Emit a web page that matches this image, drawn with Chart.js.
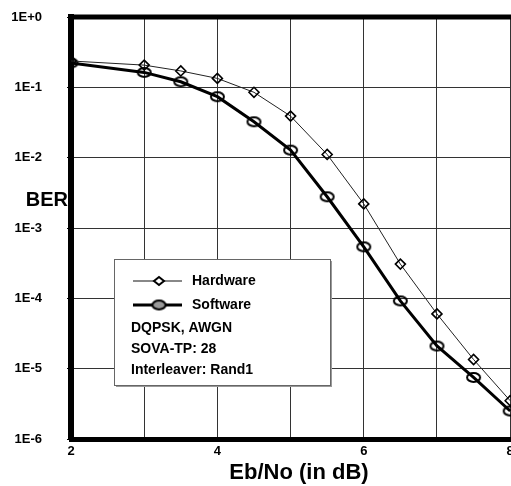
<!DOCTYPE html>
<html>
<head>
<meta charset="utf-8">
<script src="https://cdn.jsdelivr.net/npm/chart.js@4/dist/chart.umd.min.js"></script>
<style>
  body { margin: 0; background: #fff; }
  #wrap { width: 511px; height: 486px; overflow: hidden; position: relative; }
  #inner { width: 540px; height: 486px; }
</style>
</head>
<body>
<div id="wrap"><div id="inner"><canvas id="myChart"></canvas></div></div>
<script>
// data
var ebno = [2, 3, 3.5, 4, 4.5, 5, 5.5, 6, 6.5, 7, 7.5, 8];
var hardware = [0.237, 0.207, 0.171, 0.134, 0.085, 0.039, 0.0111, 0.0022, 3.07e-4, 6.0e-5, 1.35e-5, 3.5e-6];
var software = [0.222, 0.163, 0.12, 0.0736, 0.0324, 0.0128, 0.00278, 5.4e-4, 9.2e-5, 2.1e-5, 7.5e-6, 2.5e-6];
var xTicks = [2, 3, 4, 5, 6, 7, 8];
var xTickLabels = ['2', '', '4', '', '6', '', '8'];
var yTicks = [1, 1e-1, 1e-2, 1e-3, 1e-4, 1e-5, 1e-6];
var yTickLabels = ['1E+0', '1E-1', '1E-2', '1E-3', '1E-4', '1E-5', '1E-6'];
var notes = ['DQPSK, AWGN', 'SOVA-TP: 28', 'Interleaver: Rand1'];

var FONT = "'Liberation Sans', Arial, sans-serif";

// elliptic marker (looks stretched in the original)
function ellipseMarker(fill) {
  var c = document.createElement('canvas');
  c.width = 17; c.height = 13;
  var g = c.getContext('2d');
  g.beginPath();
  g.ellipse(8.5, 6.5, 6.5, 4.5, 0, 0, Math.PI * 2);
  if (fill) { g.fillStyle = fill; g.fill(); }
  g.lineWidth = 2;
  g.strokeStyle = '#000';
  g.stroke();
  return c;
}
var circleMark = ellipseMarker(null);
var circleMarkLegend = ellipseMarker('#999');

var extras = {
  id: 'extras',
  afterDraw: function (chart) {
    var ctx = chart.ctx, a = chart.chartArea;
    ctx.save();
    // top frame line
    ctx.strokeStyle = '#000';
    ctx.lineWidth = 5;
    ctx.beginPath();
    ctx.moveTo(a.left - 3, a.top);
    ctx.lineTo(a.right, a.top);
    ctx.stroke();

    // BER label
    ctx.fillStyle = '#000';
    ctx.font = 'bold 20px ' + FONT;
    ctx.textAlign = 'right';
    ctx.textBaseline = 'middle';
    ctx.fillText('BER', a.left - 3, 200);

    // legend box
    var bx = 114, by = 259, bw = 216, bh = 126;
    ctx.fillStyle = '#999';
    ctx.fillRect(bx + 2, by + 2, bw, bh);
    ctx.fillStyle = '#fff';
    ctx.fillRect(bx, by, bw, bh);
    ctx.strokeStyle = '#666';
    ctx.lineWidth = 1;
    ctx.strokeRect(bx + 0.5, by + 0.5, bw, bh);

    var ds = chart.data.datasets;
    var rows = [281, 305];
    ctx.font = 'bold 14px ' + FONT;
    ctx.textAlign = 'left';
    for (var i = 0; i < ds.length; i++) {
      var y = rows[i];
      ctx.strokeStyle = i === 0 ? '#888' : '#000';
      ctx.lineWidth = i === 0 ? 2 : 3;
      ctx.beginPath();
      ctx.moveTo(133, y);
      ctx.lineTo(182, y);
      ctx.stroke();
      if (i === 0) {
        ctx.fillStyle = '#fff';
        ctx.strokeStyle = '#000';
        ctx.lineWidth = 2;
        ctx.beginPath();
        ctx.moveTo(159, y - 4); ctx.lineTo(164, y); ctx.lineTo(159, y + 4); ctx.lineTo(154, y);
        ctx.closePath();
        ctx.fill(); ctx.stroke();
      } else {
        ctx.drawImage(circleMarkLegend, 159 - 8.5, y - 6.5);
      }
      ctx.fillStyle = '#000';
      ctx.fillText(ds[i].label, 192, y);
    }
    var ny = [328, 349, 370];
    for (var j = 0; j < notes.length; j++) {
      ctx.fillText(notes[j], 131, ny[j]);
    }
    ctx.restore();
  }
};

var totalChart = new Chart('myChart', {
  type: 'line',
  data: {
    datasets: [
      {
        label: 'Hardware',
        data: ebno.map(function (x, i) { return { x: x, y: hardware[i] }; }),
        borderColor: '#222',
        borderWidth: 1,
        pointStyle: 'rectRot',
        pointRadius: 5,
        pointBorderWidth: 1.6,
        pointBorderColor: '#000',
        pointBackgroundColor: 'rgba(0,0,0,0)',
        fill: false
      },
      {
        label: 'Software',
        data: ebno.map(function (x, i) { return { x: x, y: software[i] }; }),
        borderColor: '#000',
        borderWidth: 3,
        pointStyle: circleMark,
        fill: false
      }
    ]
  },
  options: {
    responsive: true,
    maintainAspectRatio: false,
    animation: false,
    layout: { padding: { left: 0, top: 0, right: 13, bottom: 0 } },
    plugins: {
      legend: { display: false },
      tooltip: { enabled: false }
    },
    scales: {
      x: {
        type: 'linear',
        min: 2,
        max: 8.23,
        afterBuildTicks: function (s) { s.ticks = xTicks.map(function (v) { return { value: v }; }); },
        afterFit: function (s) { s.height = 47; },
        ticks: {
          maxRotation: 0,
          autoSkip: false,
          padding: 2,
          color: '#000',
          font: { family: FONT, size: 13, weight: 'bold' },
          callback: function (v) { var k = xTicks.indexOf(v); return k >= 0 ? xTickLabels[k] : ''; }
        },
        grid: { color: '#333', lineWidth: 1, tickLength: 3, tickColor: '#000' },
        border: { display: true, color: '#000', width: 5 },
        title: {
          display: true,
          text: 'Eb/No (in dB)',
          color: '#000',
          font: { family: FONT, size: 22, weight: 'bold' },
          padding: { top: 0, bottom: 0 }
        }
      },
      y: {
        type: 'logarithmic',
        min: 1e-6,
        max: 1,
        afterBuildTicks: function (s) { s.ticks = yTicks.map(function (v) { return { value: v }; }); },
        afterFit: function (s) { s.width = 71; s.paddingTop = 17; s.paddingBottom = 8; },
        ticks: {
          autoSkip: false,
          padding: 25,
          color: '#000',
          font: { family: FONT, size: 13, weight: 'bold' },
          callback: function (v) { var k = yTicks.indexOf(v); return k >= 0 ? yTickLabels[k] : ''; }
        },
        grid: { color: '#333', lineWidth: 1, tickLength: 4, tickColor: '#000' },
        border: { display: true, color: '#000', width: 6 }
      }
    }
  },
  plugins: [extras]
});
</script>
</body>
</html>
